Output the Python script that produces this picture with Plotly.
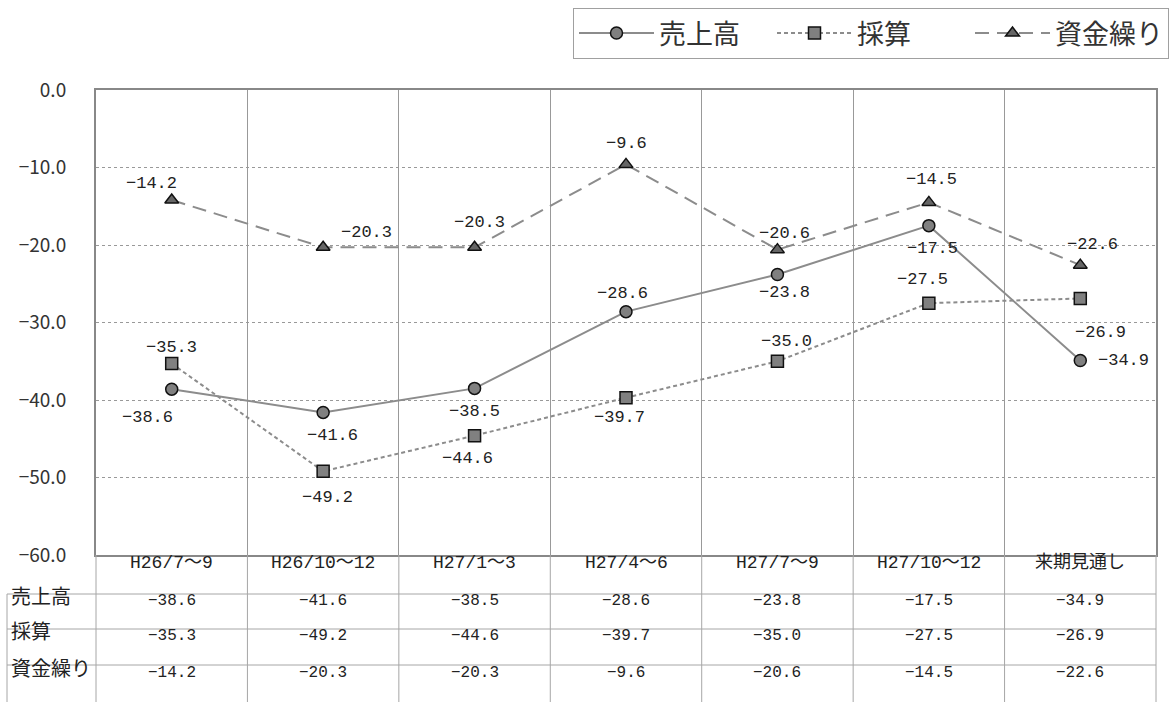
import plotly.graph_objects as go

# data
categories = ["H26/7～9", "H26/10～12", "H27/1～3", "H27/4～6", "H27/7～9", "H27/10～12", "来期見通し"]
series_names = ["売上高", "採算", "資金繰り"]
uriage = [-38.6, -41.6, -38.5, -28.6, -23.8, -17.5, -34.9]
saisan = [-35.3, -49.2, -44.6, -39.7, -35.0, -27.5, -26.9]
shikin = [-14.2, -20.3, -20.3, -9.6, -20.6, -14.5, -22.6]
y_ticks = [0, -10, -20, -30, -40, -50, -60]

W, H = 1175, 702
PX0, PX1 = 96, 1156      # plot area in pixels
PY0, PY1 = 90, 555
JP = "Noto Sans CJK JP"
NUM = "Liberation Mono, Noto Sans CJK JP"
GRAY = "#8c8c8c"
TBL = "#a6a6a6"


def fx(px):
    return px / W


def fy(py):
    return (H - py) / H


def fmt(v):
    return f"{v:.1f}".replace("-", "\u2212")


fig = go.Figure()

styles = [
    dict(dash="solid", symbol="circle", fill="#808080"),
    dict(dash="4px,3px", symbol="square", fill="#808080"),
    dict(dash="14px,8px", symbol="triangle-up", fill="#666666"),
]
all_series = [uriage, saisan, shikin]
for name, vals, st in zip(series_names, all_series, styles):
    fig.add_trace(go.Scatter(
        x=list(range(len(categories))), y=vals, name=name,
        mode="lines+markers",
        line=dict(color=GRAY, width=2, dash=st["dash"]),
        marker=dict(symbol=st["symbol"], size=12, color=st["fill"],
                    line=dict(color="#111111", width=1.5)),
        cliponaxis=False,
    ))

# label offsets (pixels) for each series
offsets = [
    [(-24, 28), (9, 23), (0, 23), (-4, -18), (7, 18), (4, 23), (43, 0)],
    [(0, -16), (4, 26), (-7, 23), (-7, 20), (9, -20), (-6, -24), (20, 34)],
    [(-20, -17), (43, -15), (5, -25), (0, -21), (7, -16), (3, -23), (12, -21)],
]
annotations = []
for vals, offs in zip(all_series, offsets):
    for i, (v, (dx, dy)) in enumerate(zip(vals, offs)):
        annotations.append(dict(
            x=i, y=v, xref="x", yref="y", text=fmt(v), showarrow=False,
            xshift=dx, yshift=-dy, font=dict(family=NUM, size=17, color="#222"),
        ))

# data table below the plot
col_w = (PX1 - PX0) / len(categories)
row_edges = [PY1, 594, 629, 665, 702]
for i, c in enumerate(categories):
    annotations.append(dict(
        x=i, y=fy((row_edges[0] + row_edges[1]) / 2), xref="x", yref="paper",
        text=c, showarrow=False, font=dict(family=NUM, size=18, color="#222"),
    ))
for r, (name, vals) in enumerate(zip(series_names, all_series)):
    yc = fy((row_edges[r + 1] + row_edges[r + 2]) / 2)
    annotations.append(dict(
        x=fx(9), y=yc, xref="paper", yref="paper", xanchor="left",
        text=name, showarrow=False, font=dict(family=JP, size=20, color="#222"),
    ))
    for i, v in enumerate(vals):
        annotations.append(dict(
            x=i, y=yc, xref="x", yref="paper", text=fmt(v), showarrow=False,
            font=dict(family=NUM, size=16, color="#222"),
        ))

shapes = []
for k in range(1, len(categories)):
    x = fx(PX0 + k * col_w)
    shapes.append(dict(type="line", xref="paper", yref="paper", x0=x, x1=x,
                       y0=fy(PY1), y1=0, line=dict(color=TBL, width=1)))
for ry in row_edges[1:4]:
    shapes.append(dict(type="line", xref="paper", yref="paper", x0=fx(7), x1=fx(PX1),
                       y0=fy(ry), y1=fy(ry), line=dict(color=TBL, width=1)))
shapes.append(dict(type="line", xref="paper", yref="paper", x0=fx(7), x1=fx(7),
                   y0=fy(594), y1=0, line=dict(color=TBL, width=1)))
shapes.append(dict(type="line", xref="paper", yref="paper", x0=fx(PX0), x1=fx(PX0),
                   y0=fy(PY1), y1=0, line=dict(color=TBL, width=1)))
shapes.append(dict(type="line", xref="paper", yref="paper", x0=fx(PX1), x1=fx(PX1),
                   y0=fy(PY1), y1=0, line=dict(color=TBL, width=1)))

fig.update_layout(
    width=W, height=H,
    margin=dict(l=0, r=0, t=0, b=0, autoexpand=False),
    paper_bgcolor="white", plot_bgcolor="white",
    showlegend=True,
    legend=dict(
        orientation="h", x=fx(1169), xanchor="right", y=fy(8), yanchor="top",
        bordercolor="#a0a0a0", borderwidth=1, bgcolor="white",
        font=dict(family=JP, size=27, color="#333"),
        itemwidth=75, entrywidth=108, entrywidthmode="pixels",
        traceorder="normal",
    ),
    annotations=annotations,
    shapes=shapes,
)
fig.update_xaxes(
    domain=[fx(PX0), fx(PX1)], range=[-0.5, len(categories) - 0.5],
    tickvals=[k + 0.5 for k in range(len(categories) - 1)],
    showticklabels=False, ticks="",
    showgrid=True, gridcolor="#999", gridwidth=1,
    showline=True, mirror=True, linecolor="#888", linewidth=2,
    zeroline=False, automargin=False,
)
fig.update_yaxes(
    domain=[fy(PY1), fy(PY0)], range=[-60, 0],
    tickvals=y_ticks, tickformat=".1f",
    tickfont=dict(family=JP, size=19, color="#333"),
    ticklabelstandoff=24,
    showgrid=True, gridcolor="#999", gridwidth=1, griddash="dot",
    showline=True, mirror=True, linecolor="#888", linewidth=2,
    zeroline=True, zerolinecolor="#111", zerolinewidth=2, automargin=False,
)

fig.write_html("out.html", config={"displayModeBar": False},
               post_script="document.body.style.margin='0';")
